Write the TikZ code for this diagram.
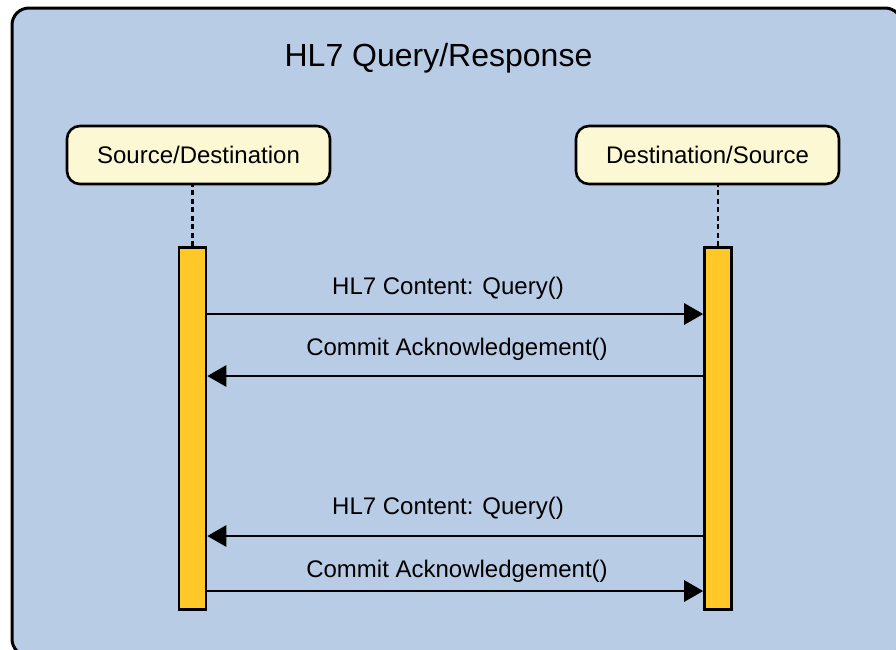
\documentclass[tikz,border=0pt]{standalone}
\usepackage{fontspec}
\setmainfont{Liberation Sans}
\usetikzlibrary{arrows.meta}
\definecolor{bgblue}{HTML}{B9CCE5}
\definecolor{hdrfill}{HTML}{FBF8D3}
\definecolor{barfill}{HTML}{FFC829}
\begin{document}
\begin{tikzpicture}[x=1pt,y=-1pt,
  hdr/.style={draw, line width=2.6pt, fill=hdrfill, rounded corners=13pt,
    minimum width=263pt, minimum height=58pt, inner sep=0pt,
    font=\fontsize{24}{28}\selectfont},
  actbar/.style={draw, line width=2.6pt, fill=barfill, minimum width=27pt,
    minimum height=362pt, inner sep=0pt, anchor=north},
  life/.style={line width=2.6pt, dash pattern=on 5pt off 3.5pt},
  msg/.style={line width=2.8pt, -{Triangle[length=19pt,width=21pt]}},
  lbl/.style={anchor=base, inner sep=0pt, font=\fontsize{24}{28}\selectfont}]
\useasboundingbox (0,0) rectangle (896,649);
\clip (0,0) rectangle (896,649);
\draw[line width=3pt, fill=bgblue, rounded corners=17pt] (12,8) rectangle (902,656);
\node[anchor=base, inner sep=0pt, font=\fontsize{32}{38}\selectfont] (title) at (438.5,66) {HL7 Query/Response};
\node[hdr] (src) at (198.5,155) {Source/Destination};
\node[hdr] (dst) at (707.5,155) {Destination/Source};
\node[actbar] (lbar) at (192.5,246) {};
\node[actbar] (rbar) at (718,246) {};
\draw[life] (lbar.north) -- (lbar.north |- src.south);
\draw[life] (rbar.north) -- (rbar.north |- dst.south);
\coordinate (l1) at ([yshift=-68pt]lbar.north east);
\coordinate (r1) at ([yshift=-68pt]rbar.north west);
\coordinate (l2) at ([yshift=-130pt]lbar.north east);
\coordinate (r2) at ([yshift=-130pt]rbar.north west);
\coordinate (l3) at ([yshift=-290pt]lbar.north east);
\coordinate (r3) at ([yshift=-290pt]rbar.north west);
\coordinate (l4) at ([yshift=-345pt]lbar.north east);
\coordinate (r4) at ([yshift=-345pt]rbar.north west);
\draw[msg] (l1) -- (r1);
\draw[msg] (r2) -- (l2);
\draw[msg] (r3) -- (l3);
\draw[msg] (l4) -- (r4);
\node[lbl] (t1) at (448,294) {HL7 Content: Query()};
\node[lbl] (t2) at (457,355) {Commit Acknowledgement()};
\node[lbl] (t3) at (448,514) {HL7 Content: Query()};
\node[lbl] (t4) at (457,577) {Commit Acknowledgement()};
\end{tikzpicture}
\end{document}
